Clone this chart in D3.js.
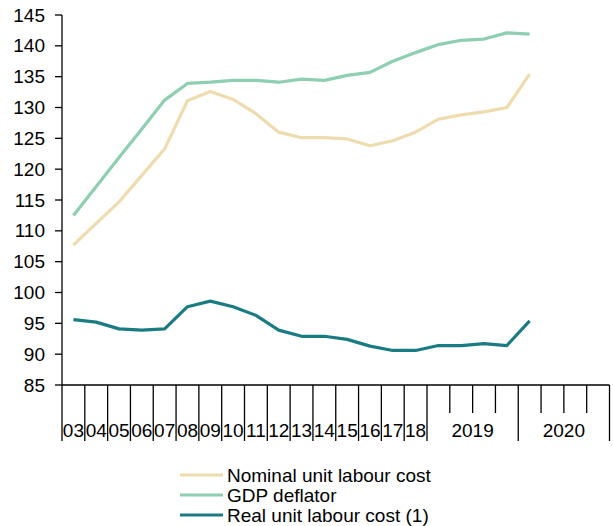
<!DOCTYPE html>
<html>
<head>
<meta charset="utf-8">
<script src="https://cdn.jsdelivr.net/npm/d3@7"></script>
<style>
  body { margin: 0; background: #fff; }
  svg text { font-family: 'Liberation Sans', Arial, sans-serif; font-size: 19px; fill: #000; }
</style>
</head>
<body>
<script>
'use strict';

// categories: yearly 2003-2018, then quarters of 2019 and 2020
var periods = ['03','04','05','06','07','08','09','10','11','12','13','14','15','16','17','18',
               '2019Q1','2019Q2','2019Q3','2019Q4','2020Q1','2020Q2','2020Q3','2020Q4'];

var nominalUlc  = [107.7, 111.2, 114.7, 119.0, 123.3, 131.1, 132.6, 131.3, 129.0, 126.0, 125.1,
                   125.1, 124.9, 123.8, 124.6, 126.0, 128.1, 128.8, 129.3, 130.0, 135.4];
var gdpDeflator = [112.5, 117.2, 121.9, 126.5, 131.2, 133.9, 134.1, 134.4, 134.4, 134.1, 134.6,
                   134.4, 135.2, 135.7, 137.5, 138.9, 140.2, 140.9, 141.1, 142.1, 141.9];
var realUlc     = [95.6, 95.2, 94.1, 93.9, 94.1, 97.7, 98.6, 97.7, 96.3, 93.9, 92.9,
                   92.9, 92.4, 91.3, 90.6, 90.6, 91.4, 91.4, 91.7, 91.4, 95.4];

var yTicks = [85, 90, 95, 100, 105, 110, 115, 120, 125, 130, 135, 140, 145];

var series = [
  {name: 'Nominal unit labour cost', values: nominalUlc,  color: '#eedcaf'},
  {name: 'GDP deflator',             values: gdpDeflator, color: '#8dcfb0'},
  {name: 'Real unit labour cost (1)', values: realUlc,    color: '#1b7b83'}
];

var width = 613, height = 526;
var plotLeft = 62, plotRight = 609.5, plotTop = 15, plotBottom = 385;

var svg = d3.select('body').append('svg')
    .attr('width', width)
    .attr('height', height);

var x = d3.scaleBand().domain(periods).range([plotLeft, plotRight]).padding(0);
var y = d3.scaleLinear().domain([85, 145]).range([plotBottom, plotTop]);

// y axis
var yAxis = svg.append('g');
yAxis.append('line')
    .attr('x1', plotLeft).attr('x2', plotLeft)
    .attr('y1', plotTop).attr('y2', plotBottom)
    .attr('stroke', '#000').attr('stroke-width', 1.3);
yAxis.selectAll('line.tick').data(yTicks).enter().append('line')
    .attr('class', 'tick')
    .attr('x1', plotLeft - 7).attr('x2', plotLeft)
    .attr('y1', function(d) { return y(d); })
    .attr('y2', function(d) { return y(d); })
    .attr('stroke', '#000').attr('stroke-width', 1.3);
yAxis.selectAll('text').data(yTicks).enter().append('text')
    .attr('x', 45)
    .attr('y', function(d) { return y(d); })
    .attr('dy', '0.35em')
    .attr('text-anchor', 'end')
    .text(function(d) { return d; });

// x axis with grouped labels
var xAxis = svg.append('g');
xAxis.append('line')
    .attr('x1', plotLeft).attr('x2', plotRight)
    .attr('y1', plotBottom).attr('y2', plotBottom)
    .attr('stroke', '#000').attr('stroke-width', 1.3);

function groupOf(p) { return p.indexOf('Q') > 0 ? p.slice(0, 4) : p; }

var boundaries = [];
periods.forEach(function(p, i) {
  var isLong = i === 0 || groupOf(periods[i - 1]) !== groupOf(p);
  boundaries.push({x: x(p), long: isLong});
});
boundaries.push({x: plotRight, long: true});

xAxis.selectAll('line.tick').data(boundaries).enter().append('line')
    .attr('class', 'tick')
    .attr('x1', function(d) { return d.x; })
    .attr('x2', function(d) { return d.x; })
    .attr('y1', plotBottom)
    .attr('y2', function(d) { return d.long ? 441 : 413; })
    .attr('stroke', '#000').attr('stroke-width', 1.3);

var groups = [];
periods.forEach(function(p) {
  var g = groupOf(p);
  var last = groups[groups.length - 1];
  if (last && last.label === g) {
    last.end = x(p) + x.bandwidth();
  } else {
    groups.push({label: g, start: x(p), end: x(p) + x.bandwidth()});
  }
});

xAxis.selectAll('text').data(groups).enter().append('text')
    .attr('x', function(d) { return (d.start + d.end) / 2; })
    .attr('y', 437)
    .attr('text-anchor', 'middle')
    .text(function(d) { return d.label; });

// lines
var line = d3.line()
    .x(function(d, i) { return x(periods[i]) + x.bandwidth() / 2; })
    .y(function(d) { return y(d); });

svg.append('g').selectAll('path').data(series).enter().append('path')
    .attr('d', function(d) { return line(d.values); })
    .attr('fill', 'none')
    .attr('stroke', function(d) { return d.color; })
    .attr('stroke-width', 3.2)
    .attr('stroke-linejoin', 'round');

// legend
var legend = svg.append('g').selectAll('g').data(series).enter().append('g')
    .attr('transform', function(d, i) { return 'translate(180,' + (475 + i * 20) + ')'; });
legend.append('line')
    .attr('x1', 0).attr('x2', 43)
    .attr('stroke', function(d) { return d.color; })
    .attr('stroke-width', 3.2);
legend.append('text')
    .attr('x', 47)
    .attr('dy', '0.35em')
    .text(function(d) { return d.name; });
</script>
</body>
</html>
